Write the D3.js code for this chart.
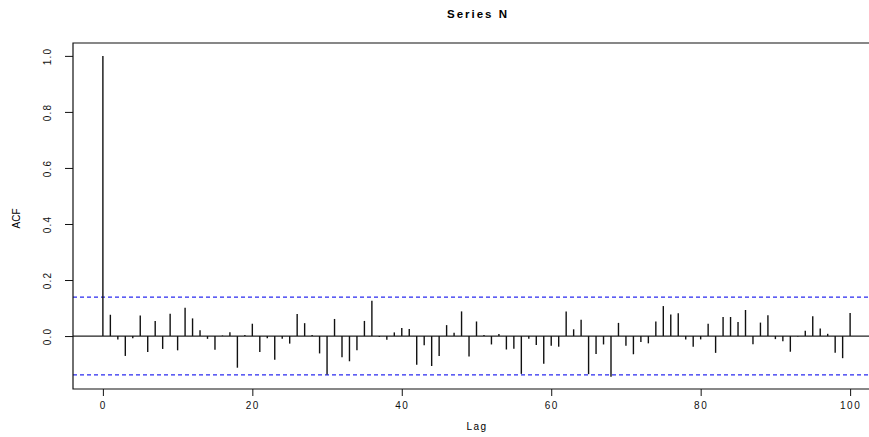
<!DOCTYPE html>
<html><head><meta charset="utf-8">
<script src="https://cdn.jsdelivr.net/npm/d3@7"></script>
<style>body{margin:0;background:#fff}svg{display:block}text{font-family:"Liberation Sans",Arial,sans-serif}</style>
</head><body>
<script>
const title = "Series  N";
const xLabel = "Lag";
const yLabel = "ACF";
const lags = d3.range(0, 101);
const acfValues = [
 1.000, 0.076,-0.012,-0.071,-0.008, 0.073,-0.057, 0.054,-0.046, 0.080,
-0.051, 0.101, 0.063, 0.021,-0.010,-0.049, 0.002, 0.014,-0.113, 0.004,
 0.044,-0.057,-0.008,-0.085,-0.010,-0.027, 0.079, 0.046, 0.004,-0.062,
-0.137, 0.061,-0.076,-0.090,-0.051, 0.054, 0.126,-0.003,-0.013, 0.013,
 0.029, 0.025,-0.102,-0.033,-0.107,-0.071, 0.039, 0.012, 0.088,-0.073,
 0.052, 0.004,-0.030, 0.007,-0.048,-0.045,-0.135,-0.010,-0.032,-0.099,
-0.035,-0.038, 0.088, 0.024, 0.058,-0.136,-0.064,-0.030,-0.145, 0.047,
-0.035,-0.065,-0.021,-0.026, 0.052, 0.107, 0.077, 0.081,-0.012,-0.038,
-0.012, 0.044,-0.060, 0.068, 0.068, 0.050, 0.093,-0.029, 0.048, 0.074,
-0.011,-0.019,-0.056,-0.002, 0.019, 0.071, 0.027, 0.008,-0.060,-0.079,
 0.082];
const confLimit = 0.1386;
const xTicks = [0, 20, 40, 60, 80, 100];
const yTicks = [0.0, 0.2, 0.4, 0.6, 0.8, 1.0];

const W = 869, H = 437;
const svg = d3.select("body").append("svg").attr("width", W).attr("height", H);
const x = d3.scaleLinear().domain([-4, 104]).range([73, 880]);
const y = d3.scaleLinear().domain([-0.189, 1.046]).range([389, 43]);

// zero line
svg.append("line").attr("x1", x(-4)).attr("x2", x(104)).attr("y1", y(0)).attr("y2", y(0))
  .attr("stroke", "#222").attr("stroke-width", 1.2);

// confidence lines
[confLimit, -confLimit].forEach(c => {
  svg.append("line").attr("x1", x(-4)).attr("x2", x(104)).attr("y1", y(c)).attr("y2", y(c))
    .attr("stroke", "#2a2af0").attr("stroke-width", 1.2).attr("stroke-dasharray", "4,3");
});

// bars
svg.append("g").selectAll("line").data(lags).join("line")
  .attr("x1", d => x(d)).attr("x2", d => x(d))
  .attr("y1", y(0)).attr("y2", (d, i) => y(acfValues[i]))
  .attr("stroke", "#111").attr("stroke-width", 1.4);

// box
svg.append("path").attr("d", `M${x(104)},${y(1.046)}H${x(-4)}V${y(-0.189)}H${x(104)}`)
  .attr("fill", "none").attr("stroke", "#111").attr("stroke-width", 1.2);

// x axis
const xa = svg.append("g").attr("transform", `translate(0,${y(-0.189)})`)
  .call(d3.axisBottom(x).tickValues(xTicks).tickSize(7).tickPadding(6).tickFormat(d3.format("d")));
xa.select(".domain").remove();
xa.selectAll("line").attr("stroke", "#111");
xa.selectAll("text").attr("font-size", 10).attr("letter-spacing", "1.5px").attr("fill", "#111");

// y axis
const ya = svg.append("g").attr("transform", `translate(${x(-4)},0)`)
  .call(d3.axisLeft(y).tickValues(yTicks).tickSize(8).tickFormat(d3.format(".1f")));
ya.select(".domain").remove();
ya.selectAll("line").attr("stroke", "#111");
ya.selectAll("text").attr("font-size", 10).attr("letter-spacing", "1.2px").attr("fill", "#111")
  .attr("text-anchor", "middle").attr("x", 0).attr("dy", 0)
  .attr("transform", d => `translate(-25,0) rotate(-90)`)
  .attr("y", 0).attr("dominant-baseline", "middle");

// labels
svg.append("text").attr("x", 478).attr("y", 18).attr("text-anchor", "middle")
  .attr("font-size", 11.5).attr("font-weight", "bold").attr("letter-spacing", "2px").text(title);
svg.append("text").attr("x", 477).attr("y", 430).attr("text-anchor", "middle")
  .attr("font-size", 10).attr("letter-spacing", "1.5px").text(xLabel);
svg.append("text").attr("transform", `translate(20,${y(0.42)}) rotate(-90)`).attr("text-anchor", "middle")
  .attr("font-size", 10).text(yLabel);
</script>
</body></html>
